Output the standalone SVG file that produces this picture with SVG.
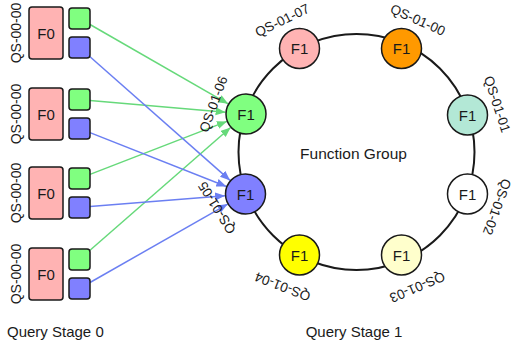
<svg xmlns="http://www.w3.org/2000/svg" width="513" height="348" viewBox="0 0 513 348">
<defs>
<style>
text{font-family:"Liberation Sans",Arial,sans-serif;fill:#1a1a1a}
.f0{fill:#ffb3b3;stroke:#1a1a1a;stroke-width:1.5}
.sg{fill:#80ff80;stroke:#1a1a1a;stroke-width:1.5}
.sb{fill:#8080ff;stroke:#1a1a1a;stroke-width:1.5}
.n{stroke:#1a1a1a;stroke-width:1.5}
.lbl{font-size:14px;text-anchor:middle}
.rl{font-size:13.5px;text-anchor:middle}
.nt{font-size:15px;text-anchor:middle}
.eg{stroke:#66d97a;stroke-width:1.5;fill:none;marker-end:url(#ag)}
.eb{stroke:#6b7ff2;stroke-width:1.5;fill:none;marker-end:url(#ab)}
</style>
<marker id="ag" markerUnits="userSpaceOnUse" markerWidth="11" markerHeight="9" refX="10" refY="4" orient="auto"><path d="M0,0 L10,4 L0,8 z" fill="#66d97a"/></marker>
<marker id="ab" markerUnits="userSpaceOnUse" markerWidth="11" markerHeight="9" refX="10" refY="4" orient="auto"><path d="M0,0 L10,4 L0,8 z" fill="#6b7ff2"/></marker>
</defs>
<rect width="513" height="348" fill="#fff"/>
<circle id="ring" cx="356.5" cy="152" r="118" fill="none" stroke="#1a1a1a" stroke-width="2"/>
<g id="connectors">
<line class="eg" x1="90" y1="24.5" x2="228.2" y2="103.8"/>
<line class="eg" x1="90" y1="100.4" x2="225.6" y2="112.2"/>
<line class="eg" x1="90" y1="174.4" x2="226.9" y2="121.4"/>
<line class="eg" x1="90" y1="250.3" x2="230.6" y2="127.5"/>
<line class="eb" x1="90" y1="56.8" x2="230.1" y2="180.4"/>
<line class="eb" x1="90" y1="132.6" x2="226.4" y2="186.5"/>
<line class="eb" x1="90" y1="206.6" x2="225.1" y2="195.7"/>
<line class="eb" x1="90" y1="282.5" x2="227.7" y2="204.1"/>
</g>
<g id="s0a">
<text class="lbl" transform="translate(20.5,33) rotate(-90)">QS-00-00</text>
<rect class="f0" x="29" y="7" width="34" height="52" rx="3"/>
<text class="nt" x="46" y="38.5">F0</text>
<rect class="sg" x="69" y="8" width="21" height="21" rx="3"/>
<rect class="sb" x="69" y="37" width="21" height="21" rx="3"/>
</g>
<g id="s0b">
<text class="lbl" transform="translate(20.5,114) rotate(-90)">QS-00-00</text>
<rect class="f0" x="29" y="88" width="34" height="52" rx="3"/>
<text class="nt" x="46" y="119.5">F0</text>
<rect class="sg" x="69" y="89" width="21" height="21" rx="3"/>
<rect class="sb" x="69" y="118" width="21" height="21" rx="3"/>
</g>
<g id="s0c">
<text class="lbl" transform="translate(20.5,193) rotate(-90)">QS-00-00</text>
<rect class="f0" x="29" y="167" width="34" height="52" rx="3"/>
<text class="nt" x="46" y="198.5">F0</text>
<rect class="sg" x="69" y="168" width="21" height="21" rx="3"/>
<rect class="sb" x="69" y="197" width="21" height="21" rx="3"/>
</g>
<g id="s0d">
<text class="lbl" transform="translate(20.5,274) rotate(-90)">QS-00-00</text>
<rect class="f0" x="29" y="248" width="34" height="52" rx="3"/>
<text class="nt" x="46" y="279.5">F0</text>
<rect class="sg" x="69" y="249" width="21" height="21" rx="3"/>
<rect class="sb" x="69" y="278" width="21" height="21" rx="3"/>
</g>
<g id="n06">
<circle class="n" cx="246" cy="114" r="20" fill="#80ff80"/>
<text class="nt" x="246" y="119.5">F1</text>
<text class="rl" transform="translate(213,104) rotate(-70)" dy="5">QS-01-06</text>
</g>
<g id="n05">
<circle class="n" cx="245.5" cy="194" r="20" fill="#8080ff"/>
<text class="nt" x="245.5" y="199.5">F1</text>
<text class="rl" transform="translate(216.5,208) rotate(238)" dy="5">QS-01-05</text>
</g>
<g id="n07">
<circle class="n" cx="299.5" cy="48.5" r="20" fill="#ffb3b3"/>
<text class="nt" x="299.5" y="54">F1</text>
<text class="rl" transform="translate(282,20) rotate(-26)" dy="5">QS-01-07</text>
</g>
<g id="n00">
<circle class="n" cx="401.5" cy="48.5" r="20" fill="#ff9900"/>
<text class="nt" x="401.5" y="54">F1</text>
<text class="rl" transform="translate(418,19.5) rotate(24)" dy="5">QS-01-00</text>
</g>
<g id="n01">
<circle class="n" cx="467.5" cy="115" r="20" fill="#b3e8d6"/>
<text class="nt" x="467.5" y="120.5">F1</text>
<text class="rl" transform="translate(497.5,104) rotate(72)" dy="5">QS-01-01</text>
</g>
<g id="n02">
<circle class="n" cx="467.5" cy="194" r="20" fill="#ffffff"/>
<text class="nt" x="467.5" y="199.5">F1</text>
<text class="rl" transform="translate(497.5,207) rotate(110)" dy="5">QS-01-02</text>
</g>
<g id="n03">
<circle class="n" cx="401.5" cy="255" r="20" fill="#ffffcc"/>
<text class="nt" x="401.5" y="260.5">F1</text>
<text class="rl" transform="translate(417.5,287.5) rotate(157)" dy="5">QS-01-03</text>
</g>
<g id="n04">
<circle class="n" cx="299.5" cy="255" r="20" fill="#ffff00"/>
<text class="nt" x="299.5" y="260.5">F1</text>
<text class="rl" transform="translate(282.5,287) rotate(201)" dy="5">QS-01-04</text>
</g>
<text x="353.5" y="158.5" font-size="15.5" text-anchor="middle">Function Group</text>
<text x="7" y="337" font-size="15">Query Stage 0</text>
<text x="354" y="337" font-size="15" text-anchor="middle">Query Stage 1</text>
</svg>
